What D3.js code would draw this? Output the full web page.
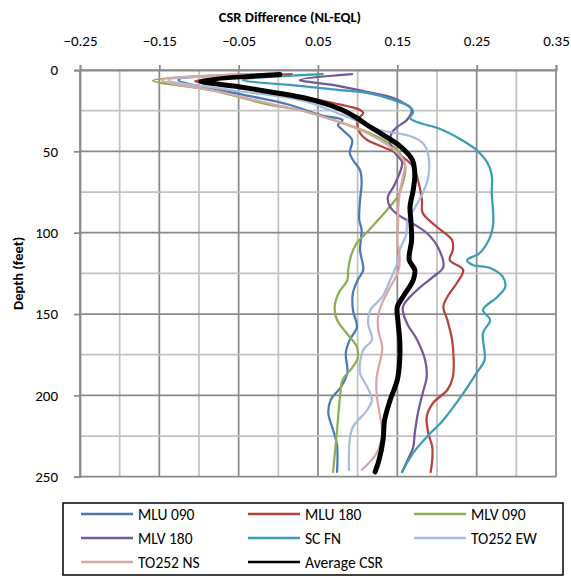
<!DOCTYPE html>
<html>
<head>
<meta charset="utf-8">
<script src="https://cdn.jsdelivr.net/npm/d3@7"></script>
<style>
  body { margin: 0; background: #fff; }
  svg { font-family: Calibri, Carlito, Lato, sans-serif; }
</style>
</head>
<body>
<div id="container"></div>
<script>
'use strict';

// [CSR difference, depth (ft)]
const mlu090 = [[-0.008,2.5],[-0.126,6.1],[-0.048,14.8],[0.015,21.5],[0.053,27.7],[0.081,30.7],[0.075,33.8],[0.081,36.9],[0.093,43.0],[0.090,51.0],[0.094,55.3],[0.103,61.5],[0.105,69.4],[0.103,79.9],[0.102,92.2],[0.105,98.3],[0.103,110.6],[0.107,122.9],[0.100,129.1],[0.094,137.1],[0.094,147.5],[0.099,158.0],[0.090,165.9],[0.085,173.9],[0.087,186.2],[0.079,194.8],[0.066,202.8],[0.063,210.8],[0.069,221.3],[0.074,230.5],[0.074,247.1]];
const mlu180 = [[0.017,2.5],[-0.105,6.8],[-0.036,11.1],[0.027,16.0],[0.069,20.3],[0.103,24.6],[0.107,26.4],[0.100,30.7],[0.103,38.7],[0.112,43.0],[0.132,47.3],[0.153,52.2],[0.170,59.6],[0.176,67.6],[0.181,79.9],[0.182,87.9],[0.200,96.5],[0.219,104.5],[0.220,110.6],[0.216,116.8],[0.233,122.9],[0.225,130.9],[0.213,139.5],[0.208,145.7],[0.213,153.6],[0.219,165.9],[0.221,178.2],[0.220,188.7],[0.213,196.7],[0.195,204.7],[0.187,213.3],[0.189,223.1],[0.194,231.7],[0.194,239.7],[0.192,247.1]];
const mlv090 = [[-0.036,2.5],[-0.158,6.5],[-0.086,12.3],[-0.010,21.5],[0.027,24.6],[0.069,30.7],[0.112,38.1],[0.137,44.3],[0.150,49.2],[0.160,59.6],[0.157,69.4],[0.150,78.1],[0.137,86.0],[0.128,91.0],[0.112,99.6],[0.099,106.3],[0.092,113.7],[0.088,122.9],[0.087,129.1],[0.076,137.1],[0.071,145.7],[0.074,153.7],[0.088,162.9],[0.099,170.2],[0.100,177.0],[0.093,183.1],[0.081,190.5],[0.078,199.7],[0.074,221.3],[0.069,247.1]];
const mlv180 = [[0.093,2.5],[0.027,6.1],[0.069,9.2],[0.112,13.5],[0.145,17.2],[0.162,21.5],[0.168,24.6],[0.162,30.7],[0.150,35.0],[0.143,38.7],[0.141,44.9],[0.147,51.0],[0.156,56.5],[0.153,63.3],[0.145,71.9],[0.138,78.1],[0.141,84.2],[0.151,89.1],[0.166,93.4],[0.187,100.2],[0.201,108.8],[0.208,121.1],[0.195,127.2],[0.175,135.2],[0.157,145.7],[0.162,155.5],[0.175,165.9],[0.185,178.2],[0.187,188.7],[0.182,198.5],[0.176,210.8],[0.172,223.1],[0.170,231.7],[0.163,239.7],[0.156,247.1]];
const scfn = [[0.056,2.5],[-0.045,6.1],[0.027,9.8],[0.078,12.3],[0.112,14.1],[0.145,18.4],[0.166,22.7],[0.170,25.8],[0.166,29.5],[0.175,32.0],[0.204,36.3],[0.229,42.4],[0.250,49.2],[0.263,56.5],[0.269,64.5],[0.269,75.6],[0.271,94.0],[0.267,102.6],[0.254,112.5],[0.238,116.8],[0.245,119.8],[0.267,121.7],[0.283,127.2],[0.286,133.4],[0.276,139.5],[0.258,147.5],[0.267,153.7],[0.258,161.6],[0.260,178.2],[0.250,186.2],[0.229,201.6],[0.208,215.1],[0.187,225.6],[0.170,235.4],[0.156,247.1]];
const to252ew = [[-0.017,2.5],[-0.139,6.1],[-0.061,12.3],[0.027,18.4],[0.081,27.7],[0.128,36.9],[0.166,40.6],[0.182,44.9],[0.189,52.2],[0.189,65.8],[0.182,75.6],[0.172,84.8],[0.163,92.2],[0.161,101.4],[0.153,110.6],[0.150,118.6],[0.141,129.1],[0.131,139.5],[0.116,147.5],[0.113,155.5],[0.118,165.9],[0.107,172.1],[0.103,186.2],[0.112,194.8],[0.118,202.8],[0.112,209.0],[0.094,219.4],[0.090,227.4],[0.089,245.8]];
const to252ns = [[-0.011,2.5],[-0.147,6.1],[-0.074,13.5],[0.002,22.1],[0.027,24.6],[0.069,30.7],[0.112,38.7],[0.141,47.3],[0.156,54.1],[0.160,58.4],[0.157,65.8],[0.153,75.6],[0.151,86.0],[0.151,93.4],[0.150,104.5],[0.153,115.5],[0.151,124.1],[0.141,133.4],[0.131,143.2],[0.126,150.6],[0.126,159.8],[0.131,170.9],[0.128,179.5],[0.124,188.7],[0.124,199.7],[0.128,212.0],[0.131,222.5],[0.124,235.4],[0.105,245.8]];
const averageCsr = [[0.002,2.8],[-0.098,6.8],[-0.048,10.4],[0.002,14.4],[0.027,16.6],[0.053,19.7],[0.078,24.0],[0.099,29.5],[0.112,33.8],[0.132,39.9],[0.153,46.7],[0.169,55.3],[0.172,64.5],[0.170,73.8],[0.166,84.2],[0.167,92.2],[0.168,104.5],[0.165,116.8],[0.172,122.9],[0.170,129.1],[0.157,139.5],[0.150,145.6],[0.151,155.5],[0.153,165.9],[0.153,178.2],[0.150,190.5],[0.141,202.8],[0.134,215.1],[0.132,227.4],[0.127,239.7],[0.122,247.0]];

const seriesNames = ['MLU 090', 'MLU 180', 'MLV 090', 'MLV 180', 'SC FN', 'TO252 EW', 'TO252 NS', 'Average CSR'];
const seriesData = [mlu090, mlu180, mlv090, mlv180, scfn, to252ew, to252ns, averageCsr];
const xTicks = [-0.25, -0.15, -0.05, 0.05, 0.15, 0.25, 0.35];
const yTicks = [0, 50, 100, 150, 200, 250];

const colors = ['#4a7ab5', '#b5423f', '#8fae52', '#74579a', '#3b9db3', '#a8bcdf', '#dba6a5', '#000000'];
const widths = [2.25, 2.25, 2.25, 2.25, 2.25, 2.25, 2.25, 5];

const w = 571;
const h = 576;
const plotLeft = 80, plotRight = 556, plotTop = 70, plotBottom = 476.7;

const svg = d3.select('#container')
    .append('svg')
    .attr('width', w)
    .attr('height', h);

const xScale = d3.scaleLinear().domain([-0.25, 0.35]).range([plotLeft, plotRight]);
const yScale = d3.scaleLinear().domain([0, 250]).range([plotTop, plotBottom]);

// gridlines: minor every 0.05 / 25 ft, major on the tick values
const xGrid = d3.range(0, 13).map((i) => -0.25 + i * 0.05);
const yGrid = d3.range(0, 11).map((i) => i * 25);

svg.append('g').selectAll('line')
    .data(xGrid)
    .enter()
    .append('line')
    .attr('x1', (d) => xScale(d))
    .attr('x2', (d) => xScale(d))
    .attr('y1', plotTop)
    .attr('y2', plotBottom)
    .attr('stroke', (d, i) => i % 2 === 0 ? '#8a8a8a' : '#c2c2c2')
    .attr('stroke-width', 1.75);

svg.append('g').selectAll('line')
    .data(yGrid)
    .enter()
    .append('line')
    .attr('x1', plotLeft)
    .attr('x2', plotRight)
    .attr('y1', (d) => yScale(d))
    .attr('y2', (d) => yScale(d))
    .attr('stroke', (d, i) => i % 2 === 0 ? '#8a8a8a' : '#c2c2c2')
    .attr('stroke-width', 1.75);

const xAxis = d3.axisTop(xScale)
    .tickValues(xTicks)
    .tickSize(5)
    .tickPadding(19)
    .tickFormat(d3.format('.2f'));
const yAxis = d3.axisLeft(yScale)
    .tickValues(yTicks)
    .tickSize(6)
    .tickPadding(16);

const gx = svg.append('g')
    .attr('transform', 'translate(0, ' + plotTop + ')')
    .call(xAxis);
const gy = svg.append('g')
    .attr('transform', 'translate(' + plotLeft + ', 0)')
    .call(yAxis);

[gx, gy].forEach((g) => {
    g.select('.domain').attr('stroke', '#8a8a8a').attr('stroke-width', 1.75);
    g.selectAll('.tick line').attr('stroke', '#8a8a8a').attr('stroke-width', 1.75);
    g.selectAll('.tick text')
        .attr('fill', '#000')
        .style('font-size', '15px')
        .style('font-family', 'Calibri, Carlito, Lato, sans-serif');
});

svg.append('text')
    .text('CSR Difference (NL-EQL)')
    .attr('text-anchor', 'middle')
    .attr('x', 290)
    .attr('y', 22)
    .style('font-size', '14.5px')
    .style('font-weight', 'bold');

svg.append('text')
    .text('Depth (feet)')
    .attr('text-anchor', 'middle')
    .attr('transform', 'translate(23, ' + ((plotTop + plotBottom) / 2) + ') rotate(-90)')
    .style('font-size', '14.5px')
    .style('font-weight', 'bold');

const line = d3.line()
    .x((d) => xScale(d[0]))
    .y((d) => yScale(d[1]))
    .curve(d3.curveCatmullRom.alpha(0.5));

svg.append('g').selectAll('path')
    .data(seriesData)
    .enter()
    .append('path')
    .attr('d', (d) => line(d))
    .attr('fill', 'none')
    .attr('stroke', (d, i) => colors[i])
    .attr('stroke-width', (d, i) => widths[i])
    .attr('stroke-linejoin', 'round')
    .attr('stroke-linecap', 'round');

// legend
const legend = svg.append('g');
legend.append('rect')
    .attr('x', 63)
    .attr('y', 503)
    .attr('width', 500)
    .attr('height', 72)
    .attr('fill', '#fff')
    .attr('stroke', '#000')
    .attr('stroke-width', 1.5);

const colX = [81, 248, 414];
const rowY = [514, 538, 562];
seriesNames.forEach((name, i) => {
    const cx = colX[i % 3];
    const cy = rowY[Math.floor(i / 3)];
    legend.append('line')
        .attr('x1', cx)
        .attr('x2', cx + 52)
        .attr('y1', cy)
        .attr('y2', cy)
        .attr('stroke', colors[i])
        .attr('stroke-width', 2.5);
    legend.append('text')
        .text(name)
        .attr('x', cx + 57)
        .attr('y', cy + 5.5)
        .style('font-size', '15.5px');
});
</script>
</body>
</html>
